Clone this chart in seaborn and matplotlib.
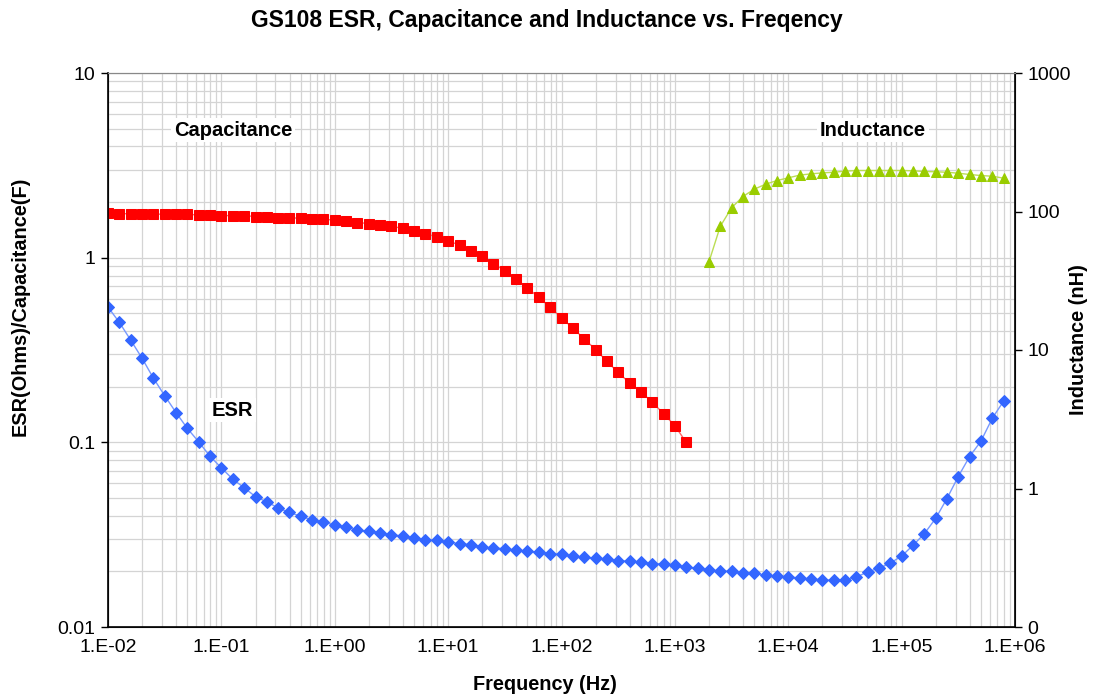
import numpy as np
import pandas as pd
import matplotlib
matplotlib.use("Agg")
import matplotlib.pyplot as plt
import seaborn as sns

# ---- data (10 points per decade) ----
freq_hz = [
    0.01, 0.0126, 0.0158, 0.02, 0.0251, 0.0316, 0.0398, 0.0501, 0.0631, 0.0794,
    0.1, 0.126, 0.158, 0.2, 0.251, 0.316, 0.398, 0.501, 0.631, 0.794,
    1.0, 1.26, 1.58, 2.0, 2.51, 3.16, 3.98, 5.01, 6.31, 7.94,
    10, 12.6, 15.8, 20, 25.1, 31.6, 39.8, 50.1, 63.1, 79.4,
    100, 126, 158, 200, 251, 316, 398, 501, 631, 794,
    1000, 1259, 1585, 1995, 2512, 3162, 3981, 5012, 6310, 7943,
    1.0e4, 1.26e4, 1.58e4, 2.0e4, 2.51e4, 3.16e4, 3.98e4, 5.01e4, 6.31e4, 7.94e4,
    1.0e5, 1.26e5, 1.58e5, 2.0e5, 2.51e5, 3.16e5, 3.98e5, 5.01e5, 6.31e5, 7.94e5,
]

esr_ohm = [
    0.540, 0.446, 0.359, 0.285, 0.223, 0.179, 0.145, 0.119, 0.1006, 0.0841,
    0.0727, 0.0632, 0.0569, 0.0508, 0.0476, 0.0442, 0.0417, 0.0398, 0.0380, 0.0369,
    0.0357, 0.0347, 0.0335, 0.0329, 0.0324, 0.0316, 0.0311, 0.0304, 0.0297, 0.0295,
    0.0288, 0.0283, 0.0279, 0.0272, 0.0267, 0.0266, 0.0260, 0.0258, 0.0254, 0.0250,
    0.0247, 0.0243, 0.0238, 0.0236, 0.0233, 0.0229, 0.0227, 0.0225, 0.0220, 0.0220,
    0.0216, 0.0211, 0.0208, 0.0204, 0.0201, 0.0200, 0.0196, 0.0195, 0.0191, 0.0188,
    0.0187, 0.0184, 0.0182, 0.0180, 0.0179, 0.0180, 0.0186, 0.0199, 0.0208, 0.0222,
    0.0242, 0.0277, 0.0319, 0.0388, 0.0496, 0.0653, 0.0838, 0.1015, 0.1352, 0.1672,
]

# capacitance (F) for the first 52 frequencies
cap_f = [
    1.75, 1.73, 1.73, 1.73, 1.72, 1.72, 1.72, 1.72, 1.70, 1.70,
    1.69, 1.69, 1.69, 1.67, 1.67, 1.65, 1.65, 1.63, 1.61, 1.61,
    1.60, 1.58, 1.55, 1.53, 1.50, 1.48, 1.44, 1.40, 1.35, 1.295,
    1.225, 1.176, 1.091, 1.016, 0.928, 0.850, 0.767, 0.685, 0.609, 0.540,
    0.471, 0.416, 0.364, 0.318, 0.275, 0.239, 0.210, 0.188, 0.165, 0.143,
    0.123, 0.100,
]

# inductance (nH) for the last 27 frequencies
ind_nh = [
    43.1, 78.0, 106.3, 128.3, 144.8, 157.4, 167.3, 175.0, 183.0, 187.0,
    190.0, 192.0, 195.5, 197.7, 197.7, 197.7, 197.7, 197.7, 196.7, 194.5,
    193.5, 192.0, 189.0, 185.0, 181.8, 179.8, 174.0,
]

x_ticks = [1e-2, 1e-1, 1e0, 1e1, 1e2, 1e3, 1e4, 1e5, 1e6]
x_labels = ["1.E-02", "1.E-01", "1.E+00", "1.E+01", "1.E+02", "1.E+03", "1.E+04", "1.E+05", "1.E+06"]
left_ticks = [0.01, 0.1, 1, 10]
left_labels = ["0.01", "0.1", "1", "10"]
right_ticks = [0.1, 1, 10, 100, 1000]
right_labels = ["0", "1", "10", "100", "1000"]

esr_df = pd.DataFrame({"freq": freq_hz, "esr": esr_ohm})
cap_df = pd.DataFrame({"freq": freq_hz[:len(cap_f)], "cap": cap_f})
ind_df = pd.DataFrame({"freq": freq_hz[-len(ind_nh):], "ind": ind_nh})

# ---- style ----
sns.set_style("white")
plt.rcParams['font.family'] = ['Liberation Sans', 'DejaVu Sans']
plt.rcParams['text.color'] = 'black'
plt.rcParams['xtick.color'] = 'black'
plt.rcParams['ytick.color'] = 'black'
plt.rcParams['axes.labelcolor'] = 'black'

fig = plt.figure(figsize=(10.94, 6.96), dpi=100)
ax = fig.add_axes([108 / 1094, 1 - 627 / 696, (1015 - 108) / 1094, (627 - 73) / 696])
ax2 = ax.twinx()

ax.set_xscale("log")
ax.set_yscale("log")
ax2.set_yscale("log")

sns.lineplot(data=cap_df, x="freq", y="cap", ax=ax, color="#ff6666", lw=1,
             marker="s", markersize=7.2, markerfacecolor="#ff0000",
             markeredgecolor="#ff0000", zorder=3)
sns.lineplot(data=esr_df, x="freq", y="esr", ax=ax, color="#7799ff", lw=1,
             marker="D", markersize=5.8, markerfacecolor="#3366ff",
             markeredgecolor="#3366ff", zorder=3)
sns.lineplot(data=ind_df, x="freq", y="ind", ax=ax2, color="#bbdd55", lw=1,
             marker="^", markersize=7.8, markerfacecolor="#99cc00",
             markeredgecolor="#99cc00", zorder=3)

ax.set_xlim(1e-2, 1e6)
ax.set_ylim(0.01, 10)
ax2.set_ylim(0.1, 1000)

ax.set_xticks(x_ticks)
ax.set_xticklabels(x_labels)
ax.set_yticks(left_ticks)
ax.set_yticklabels(left_labels)
ax2.set_yticks(right_ticks)
ax2.set_yticklabels(right_labels)
ax2.yaxis.set_minor_locator(matplotlib.ticker.NullLocator())

ax.xaxis.set_minor_locator(matplotlib.ticker.LogLocator(base=10, subs=np.arange(2, 10), numticks=100))
ax.yaxis.set_minor_locator(matplotlib.ticker.LogLocator(base=10, subs=np.arange(2, 10), numticks=100))
ax.xaxis.set_minor_formatter(matplotlib.ticker.NullFormatter())
ax.yaxis.set_minor_formatter(matplotlib.ticker.NullFormatter())

ax.grid(True, which="both", color="#d4d4d4", lw=0.9)
ax.set_axisbelow(True)

for a in (ax, ax2):
    a.tick_params(which="major", direction="out", length=5, width=1, color="black",
                  labelcolor="black", labelsize=14, pad=4)
    a.tick_params(which="minor", length=0)
    a.set_xlabel("")
    a.set_ylabel("")

for side in ("left", "bottom", "right"):
    ax2.spines[side].set_color("black")
    ax2.spines[side].set_linewidth(1.2)
ax2.spines["top"].set_color("#888888")
ax.spines["top"].set_color("#888888")

# ---- text ----
fig.text(0.5, 0.971, "GS108 ESR, Capacitance and Inductance vs. Freqency",
         ha="center", va="center", fontsize=16.5, fontweight="bold", color="black")
fig.text(545 / 1094, 1 - 685 / 696, "Frequency (Hz)", ha="center", va="center",
         fontsize=14.3, fontweight="bold", color="black")
fig.text(20 / 1094, 1 - 306 / 696, "ESR(Ohms)/Capacitance(F)", ha="center", va="center",
         rotation=90, fontsize=14.3, fontweight="bold", color="black")
fig.text(1078 / 1094, 1 - 340 / 696, "Inductance (nH)", ha="center", va="center",
         rotation=90, fontsize=14.3, fontweight="bold", color="black")

box = dict(facecolor="white", edgecolor="none", pad=2)
fig.text(233 / 1094, 1 - 130 / 696, "Capacitance", ha="center", va="center",
         fontsize=14.5, fontweight="bold", color="black", bbox=box)
fig.text(873 / 1094, 1 - 130 / 696, "Inductance", ha="center", va="center",
         fontsize=14.5, fontweight="bold", color="black", bbox=box)
fig.text(232 / 1094, 1 - 410 / 696, "ESR", ha="center", va="center",
         fontsize=14.5, fontweight="bold", color="black", bbox=box)

fig.savefig("out.png", dpi=100)
